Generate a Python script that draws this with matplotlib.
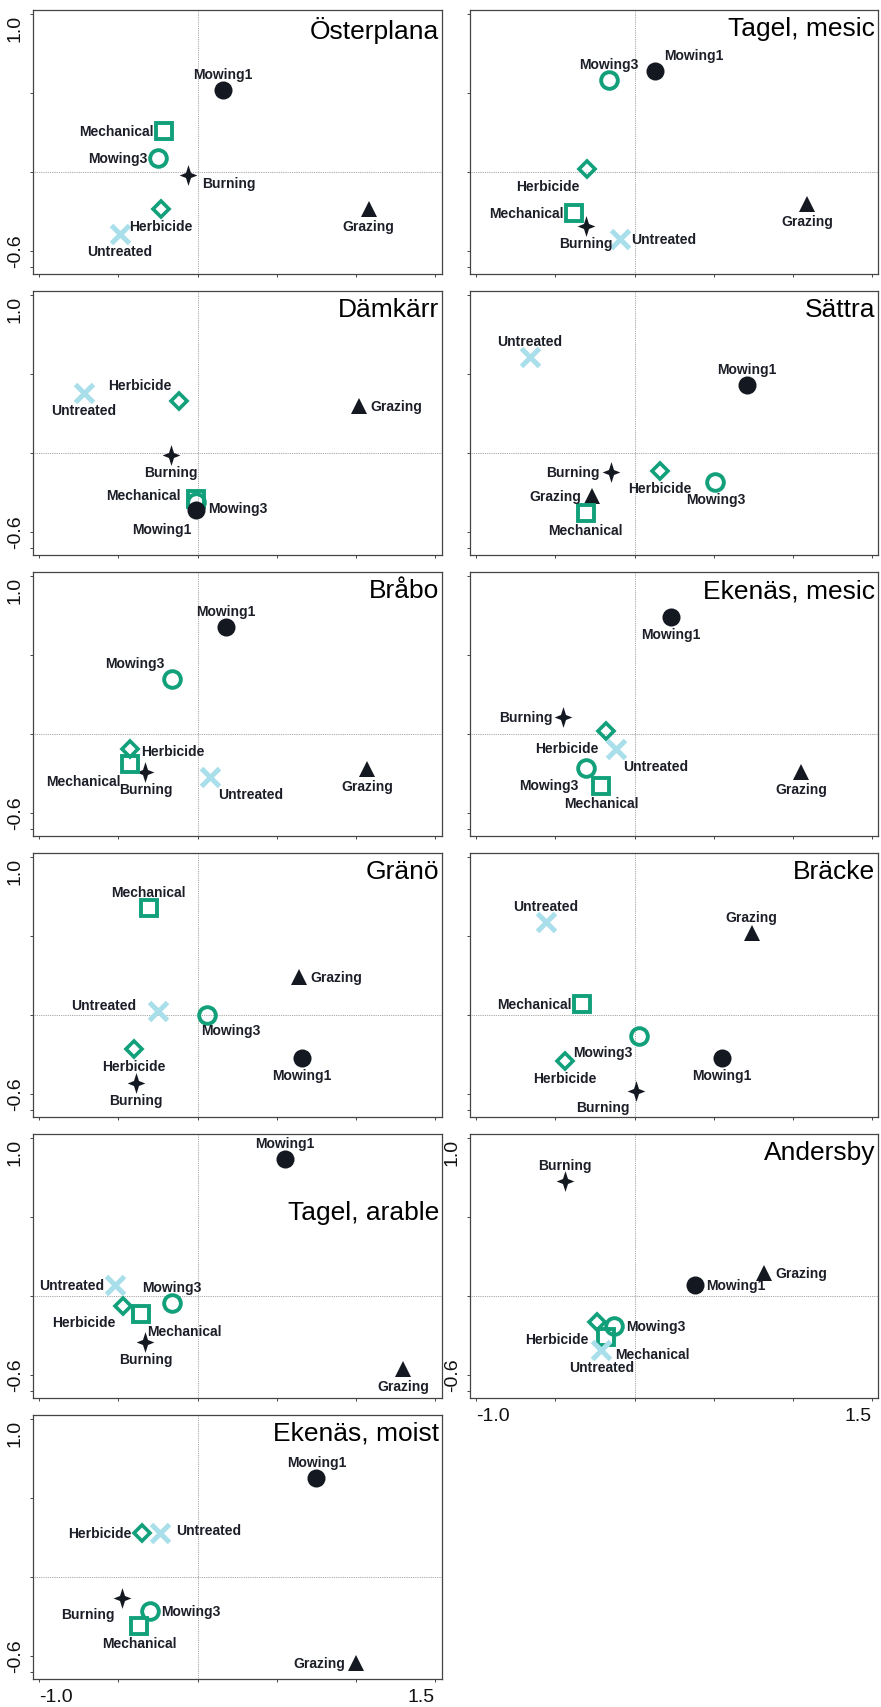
import matplotlib
matplotlib.use("Agg")
import matplotlib.pyplot as plt
from matplotlib.path import Path

# --------------------------------------------------
# 1. Data: ordination scores per site
# --------------------------------------------------

treatments = ["Mowing1", "Mowing3", "Mechanical", "Herbicide",
              "Burning", "Grazing", "Untreated"]

sites = ["Österplana", "Tagel, mesic", "Dämkärr", "Sättra", "Bråbo",
         "Ekenäs, mesic", "Gränö", "Bräcke", "Tagel, arable", "Andersby",
         "Ekenäs, moist"]

#                 Mow1   Mow3   Mech   Herb   Burn   Graz   Untr
osterplana_x   = [0.16, -0.25, -0.21, -0.23, -0.06, 1.08, -0.49]
osterplana_y   = [0.52,  0.09,  0.26, -0.23, -0.02, -0.23, -0.39]
tagel_mesic_x  = [0.13, -0.16, -0.38, -0.30, -0.31, 1.09, -0.09]
tagel_mesic_y  = [0.64,  0.58, -0.26,  0.02, -0.34, -0.20, -0.42]
damkarr_x      = [-0.01, -0.01, -0.01, -0.12, -0.17, 1.02, -0.72]
damkarr_y      = [-0.36, -0.31, -0.29,  0.33, -0.01, 0.30,  0.38]
sattra_x       = [0.71,  0.51, -0.31,  0.16, -0.15, -0.27, -0.66]
sattra_y       = [0.43, -0.18, -0.38, -0.11, -0.12, -0.27,  0.61]
brabo_x        = [0.18, -0.16, -0.43, -0.43, -0.33, 1.07,  0.08]
brabo_y        = [0.68,  0.35, -0.19, -0.09, -0.24, -0.22, -0.27]
ekenas_mesic_x = [0.23, -0.31, -0.21, -0.18, -0.45, 1.05, -0.12]
ekenas_mesic_y = [0.74, -0.21, -0.33,  0.02,  0.11, -0.24, -0.09]
grano_x        = [0.66,  0.06, -0.31, -0.40, -0.39, 0.64, -0.25]
grano_y        = [-0.27,  0.00,  0.68, -0.21, -0.43, 0.24,  0.03]
bracke_x       = [0.55,  0.03, -0.33, -0.44,  0.01, 0.74, -0.56]
bracke_y       = [-0.27, -0.13,  0.07, -0.29, -0.48, 0.52,  0.59]
tagel_arable_x = [0.55, -0.16, -0.36, -0.47, -0.33, 1.30, -0.52]
tagel_arable_y = [0.87, -0.04, -0.11, -0.06, -0.29, -0.46,  0.07]
andersby_x     = [0.38, -0.13, -0.18, -0.24, -0.44, 0.82, -0.21]
andersby_y     = [0.07, -0.19, -0.26, -0.16,  0.73, 0.15, -0.34]
ekenas_moist_x = [0.75, -0.30, -0.37, -0.35, -0.48, 1.00, -0.24]
ekenas_moist_y = [0.63, -0.21, -0.31,  0.28, -0.13, -0.54,  0.28]

site_x = [osterplana_x, tagel_mesic_x, damkarr_x, sattra_x, brabo_x,
          ekenas_mesic_x, grano_x, bracke_x, tagel_arable_x, andersby_x,
          ekenas_moist_x]
site_y = [osterplana_y, tagel_mesic_y, damkarr_y, sattra_y, brabo_y,
          ekenas_mesic_y, grano_y, bracke_y, tagel_arable_y, andersby_y,
          ekenas_moist_y]

y_ticks = [-0.6, -0.5, 0.0, 0.5, 1.0]
x_ticks = [-1.0, -0.5, 0.0, 0.5, 1.0, 1.5]

# --------------------------------------------------
# 2. Label placement (pixel offsets from the marker)
# --------------------------------------------------

T = (0, 16, "center")
B = (0, -17, "center")
L = (-11, 0, "right")
R = (11, 0, "left")

label_pos = [
    [T, L, L, B, (14, -8, "left"), B, B],
    [(9, 16, "left"), T, L, (-39, -17, "center"), B, B, R],
    [(-34, -19, "center"), (12, -6, "left"), (-15, 4, "right"),
     (-39, 16, "center"), B, R, B],
    [T, B, B, B, L, L, T],
    [T, (-37, 16, "center"), (-9, -17, "right"), (12, -2, "left"), B, B,
     (40, -17, "center")],
    [B, (-37, -17, "center"), B, (-39, -17, "center"), L, B,
     (40, -17, "center")],
    [B, (24, -15, "center"), T, B, B, R, (-22, 6, "right")],
    [B, (-37, -16, "center"), L, B, (-33, -16, "center"), T, T],
    [T, T, (44, -17, "center"), (-39, -16, "center"), B, B, L],
    [R, (12, 0, "left"), (9, -17, "left"), (-8, -17, "right"), T, R, B],
    [T, R, B, L, (-34, -16, "center"), L, (16, 3, "left")],
]

title_offset = [-6] * 11
title_offset[8] = -66

# --------------------------------------------------
# 3. Marker styles
# --------------------------------------------------

dark = "#141821"
green = "#12a07b"
sky = "#a8dfea"

star = Path([(0, 1), (0.24, 0.24), (0.85, 0), (0.24, -0.24), (0, -1),
             (-0.24, -0.24), (-0.85, 0), (-0.24, 0.24), (0, 1)])

styles = {
    "Mowing1": dict(marker="o", ms=13, mfc=dark, mec=dark, mew=0),
    "Mowing3": dict(marker="o", ms=12, mfc="none", mec=green, mew=2.8),
    "Mechanical": dict(marker="s", ms=11, mfc="none", mec=green, mew=2.8),
    "Herbicide": dict(marker="D", ms=8.5, mfc="none", mec=green, mew=2.6),
    "Burning": dict(marker=star, ms=15, mfc=dark, mec=dark, mew=0),
    "Grazing": dict(marker="^", ms=11, mfc=dark, mec=dark, mew=0),
    "Untreated": dict(marker="x", ms=13, mec=sky, mew=3.6),
}
draw_order = ["Burning", "Grazing", "Mowing3", "Herbicide", "Mechanical",
              "Untreated", "Mowing1"]

# --------------------------------------------------
# 4. Figure
# --------------------------------------------------

W, H = 881, 1708
fig = plt.figure(figsize=(W / 100, H / 100), dpi=100)
plt.rcParams["font.family"] = ["Liberation Sans", "DejaVu Sans"]

col_left = [33, 470]
col_width = [409, 408]
px_per_unit = 158.3
panel_h = 264

for i, site in enumerate(sites):
    col = i % 2
    row = i // 2
    left = col_left[col]
    width = col_width[col]
    top = 11 + 281 * row
    ax = fig.add_axes([left / W, 1 - (top + panel_h) / H, width / W, panel_h / H])

    x0 = -1.04
    y1 = 1.025
    ax.set_xlim(x0, x0 + width / px_per_unit)
    ax.set_ylim(y1 - panel_h / px_per_unit, y1)

    ax.axhline(0, color="#888888", lw=0.6, ls=(0, (1, 1.2)), zorder=0)
    ax.axvline(0, color="#888888", lw=0.6, ls=(0, (1, 1.2)), zorder=0)

    xs = site_x[i]
    ys = site_y[i]
    for name in draw_order:
        k = treatments.index(name)
        ax.plot(xs[k], ys[k], ls="none", **styles[name])
    for k, name in enumerate(treatments):
        dx, dy, ha = label_pos[i][k]
        ax.annotate(name, (xs[k], ys[k]), xytext=(dx, dy),
                    textcoords="offset pixels", ha=ha, va="center",
                    fontsize=10, fontweight="bold", color="#1c1e28",
                    zorder=5)

    ax.annotate(site, (1, 1), xycoords="axes fraction",
                xytext=(-3, title_offset[i]), textcoords="offset pixels",
                ha="right", va="top", fontsize=19, color="black")

    for sp in ax.spines.values():
        sp.set_color("#444444")
        sp.set_linewidth(0.9)

    ax.tick_params(length=2.5, width=0.7, color="#444444", labelsize=14,
                   labelcolor="#111111", pad=4)

    ax.set_yticks(y_ticks)
    if col == 0 or site == "Andersby":
        ax.set_yticklabels(["-0.6", "", "", "", "1.0"], rotation=90)
        labs = ax.get_yticklabels()
        labs[0].set_va("bottom")
        labs[4].set_va("top")
    else:
        ax.set_yticklabels([])

    ax.set_xticks(x_ticks)
    if site in ("Andersby", "Ekenäs, moist"):
        ax.set_xticklabels(["-1.0", "", "", "", "", "1.5"])
        labs = ax.get_xticklabels()
        labs[0].set_ha("left")
        labs[5].set_ha("right")
    else:
        ax.set_xticklabels([])

fig.savefig("out.png", dpi=100)
